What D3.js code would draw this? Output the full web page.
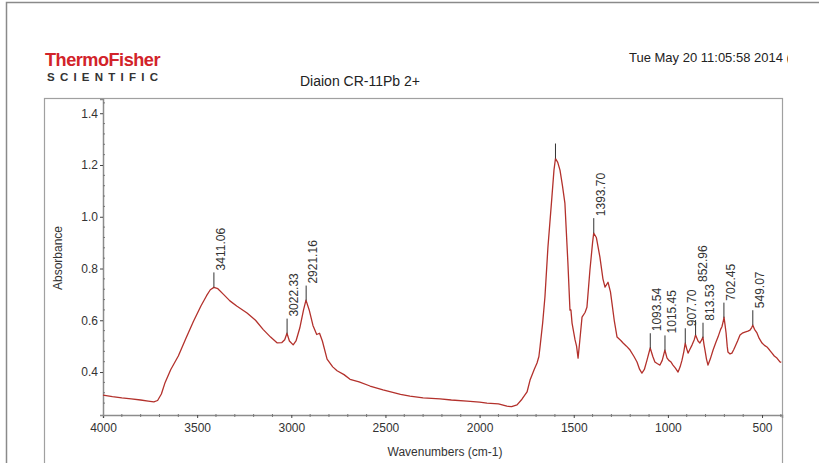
<!DOCTYPE html>
<html><head><meta charset="utf-8">
<script src="https://cdn.jsdelivr.net/npm/d3@7"></script>
<style>
html,body{margin:0;padding:0;background:#fff;}
svg{display:block;font-family:"Liberation Sans",Arial,sans-serif;}
</style></head>
<body>
<svg id="chart" width="819" height="463"></svg>
<script>
// ---- data ----
const wavenumbers = [4000,3950,3900,3850,3800,3760,3730,3710,3690,3670,3640,3600,3560,3520,3480,3450,3430,3411,3390,3360,3326,3290,3235,3190,3150,3110,3076,3050,3035,3023,3010,2990,2975,2955,2935,2922,2905,2885,2865,2850,2835,2810,2780,2757,2720,2688,2640,2582,2513,2420,2370,2300,2210,2150,2067,2000,1961,1900,1870,1855,1830,1801,1775,1748,1732,1722,1710,1695,1685,1679,1665,1653,1637,1616,1605,1597,1585,1573,1560,1547,1531,1520,1515,1509,1493,1485,1477,1468,1456,1440,1430,1414,1400,1394,1380,1361,1345,1334,1318,1305,1297,1285,1270,1250,1238,1220,1201,1180,1164,1150,1138,1125,1111,1094,1080,1069,1055,1042,1030,1016,1005,995,985,973,960,946,935,925,915,908,900,893,885,872,860,853,840,830,820,814,808,803,795,787,775,760,745,734,720,713,705,702,697,691,685,681,670,660,650,644,630,617,605,591,575,564,555,549,540,527,515,500,487,474,460,447,435,421,405,398];
const absorbance = [0.311,0.305,0.300,0.296,0.292,0.288,0.285,0.290,0.315,0.360,0.410,0.462,0.530,0.595,0.655,0.695,0.718,0.727,0.722,0.700,0.675,0.655,0.628,0.600,0.565,0.535,0.513,0.514,0.525,0.550,0.520,0.505,0.520,0.570,0.640,0.678,0.640,0.580,0.545,0.550,0.520,0.450,0.420,0.405,0.390,0.372,0.362,0.346,0.331,0.314,0.307,0.300,0.296,0.292,0.288,0.284,0.280,0.277,0.271,0.268,0.266,0.273,0.295,0.323,0.369,0.388,0.410,0.435,0.460,0.497,0.590,0.690,0.883,1.076,1.180,1.225,1.210,1.180,1.120,1.053,0.821,0.639,0.640,0.589,0.524,0.500,0.454,0.520,0.612,0.630,0.650,0.794,0.900,0.937,0.920,0.844,0.760,0.728,0.747,0.710,0.666,0.600,0.535,0.522,0.512,0.500,0.485,0.460,0.439,0.410,0.396,0.410,0.446,0.493,0.460,0.439,0.432,0.427,0.445,0.485,0.455,0.445,0.440,0.427,0.415,0.400,0.420,0.446,0.480,0.512,0.490,0.473,0.485,0.504,0.525,0.543,0.520,0.512,0.525,0.535,0.505,0.485,0.450,0.427,0.450,0.485,0.515,0.535,0.565,0.575,0.600,0.612,0.585,0.551,0.500,0.477,0.470,0.473,0.487,0.497,0.520,0.543,0.550,0.554,0.558,0.562,0.572,0.581,0.565,0.551,0.530,0.512,0.503,0.497,0.485,0.473,0.462,0.454,0.439,0.437];
const peakPositions = [3411.06,3022.33,2921.16,1597,1393.70,1093.54,1015.45,907.70,852.96,813.53,702.45,549.07];
const peakLabels = ["3411.06","3022.33","2921.16","","1393.70","1093.54","1015.45","907.70","852.96","813.53","702.45","549.07"];
const xTicks = [4000,3500,3000,2500,2000,1500,1000,500];
const yTicks = [0.4,0.6,0.8,1.0,1.2,1.4];
const title = "Diaion CR-11Pb 2+";
const dateText = "Tue May 20 11:05:58 2014 (";
const xLabel = "Wavenumbers (cm-1)";
const yLabel = "Absorbance";

// ---- layout ----
const svg = d3.select("#chart");
const L = 103, R = 782, T = 99, B = 415;
const x = d3.scaleLinear().domain([4000, 394]).range([L, R]);
const y = d3.scaleLinear().domain([0.234, 1.455]).range([B, T]);

// outer page border
svg.append("rect").attr("x",6.5).attr("y",2.5).attr("width",830).attr("height",480)
  .attr("fill","none").attr("stroke","#8a8a8a").attr("stroke-width",1.5);
// panel box
svg.append("rect").attr("x",44.5).attr("y",98.5).attr("width",738).attr("height",400)
  .attr("fill","none").attr("stroke","#a0a0a0").attr("stroke-width",1.2);

// logo
svg.append("text").attr("x",45).attr("y",66).attr("font-size",18.5).attr("font-weight","bold")
  .attr("fill","#d2232a").attr("textLength",115).attr("lengthAdjust","spacingAndGlyphs")
  .style("letter-spacing","-0.5px").text("ThermoFisher");
svg.append("text").attr("x",47).attr("y",81).attr("font-size",11.5).attr("font-weight","bold")
  .attr("fill","#333").attr("textLength",111).attr("lengthAdjust","spacing").text("SCIENTIFIC");

// title & date
svg.append("text").attr("x",300).attr("y",86).attr("font-size",14).attr("fill","#222").text(title);
svg.append("clipPath").attr("id","dclip").append("rect").attr("x",600).attr("y",40).attr("width",188).attr("height",30);
svg.append("text").attr("x",629).attr("y",62).attr("font-size",13).attr("fill","#222")
  .attr("clip-path","url(#dclip)").text(dateText);

// axes
const xAxis = d3.axisBottom(x).tickValues(xTicks).tickSize(3).tickPadding(5).tickFormat(d3.format("d"));
const gx = svg.append("g").attr("transform",`translate(0,${B})`).call(xAxis);
const yAxis = d3.axisLeft(y).tickValues(yTicks).tickSize(3).tickPadding(2).tickFormat(d3.format(".1f"));
const gy = svg.append("g").attr("transform",`translate(${L},0)`).call(yAxis);
[gx,gy].forEach(g=>{
  g.select(".domain").attr("stroke","#8c8c8c").attr("stroke-width",1.5);
  g.selectAll(".tick line").attr("stroke","#444");
  g.selectAll(".tick text").attr("font-size",12).attr("fill","#333").attr("font-family","Liberation Sans, Arial, sans-serif");
});
// minor ticks
svg.append("g").selectAll("line").data(d3.range(3900, 394, -100).filter(v=>v%500!==0))
  .join("line").attr("x1",d=>x(d)).attr("x2",d=>x(d)).attr("y1",B-1).attr("y2",B+2).attr("stroke","#777");
svg.append("g").selectAll("line").data(d3.range(0.28, 1.45, 0.04).filter(v=>Math.abs(v*5-Math.round(v*5))>0.01))
  .join("line").attr("x1",L).attr("x2",L+2).attr("y1",d=>y(d)).attr("y2",d=>y(d)).attr("stroke","#777");

// axis labels
svg.append("text").attr("transform",`translate(62,258) rotate(-90)`).attr("text-anchor","middle")
  .attr("font-size",12).attr("fill","#333").text(yLabel);
svg.append("text").attr("x",445).attr("y",456).attr("text-anchor","middle")
  .attr("font-size",12).attr("fill","#333").text(xLabel);

// spectrum
const pts = wavenumbers.map((w,i)=>[w,absorbance[i]]);
svg.append("path").datum(pts)
  .attr("d", d3.line().x(d=>x(d[0])).y(d=>y(d[1])))
  .attr("fill","none").attr("stroke","#b3312c").attr("stroke-width",1.3).attr("stroke-linejoin","round");

// peak markers
const asc = pts.slice().reverse();
const bis = d3.bisector(d=>d[0]).left;
function valueAt(w){
  const i = bis(asc, w);
  if (i<=0) return asc[0][1];
  if (i>=asc.length) return asc[asc.length-1][1];
  const a = asc[i-1], b = asc[i];
  return a[1] + (b[1]-a[1])*(w-a[0])/(b[0]-a[0]);
}
const peaks = peakPositions.map((w,i)=>({w, label:peakLabels[i], px:x(w), py:y(valueAt(w))}))
  .sort((a,b)=>a.w-b.w);
const gp = svg.append("g");
const placed = [];
peaks.forEach(p=>{
  const top = p.py - 15;
  gp.append("line").attr("x1",p.px).attr("x2",p.px).attr("y1",p.py).attr("y2",top)
    .attr("stroke","#333").attr("stroke-width",1);
  if (!p.label) return;
  const t = gp.append("text").attr("font-size",12).attr("fill","#333").text(p.label);
  const len = t.node().getComputedTextLength();
  let bottom = top - 2;
  const x0 = p.px + 2, x1 = p.px + 11;
  let moved = true;
  while (moved) {
    moved = false;
    for (const q of placed) {
      if (x0 < q.x1 && x1 > q.x0 && bottom > q.bottom - q.len && bottom - len < q.bottom) {
        bottom = q.bottom - q.len - 2; moved = true;
      }
    }
  }
  placed.push({x0,x1,bottom,len});
  t.attr("transform",`translate(${p.px+11},${bottom}) rotate(-90)`);
});
</script>
</body></html>
